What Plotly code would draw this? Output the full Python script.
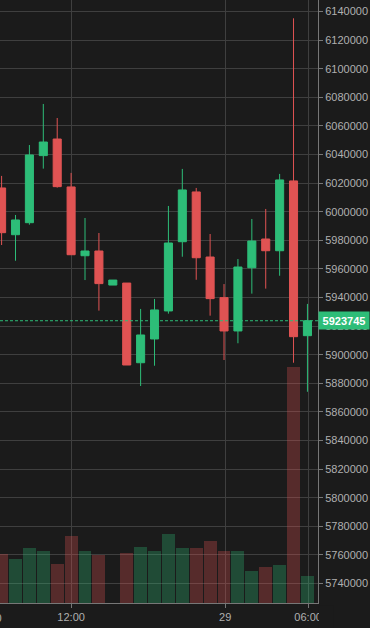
import plotly.graph_objects as go

# ---- data ----
candle_index = list(range(23))
opens  = [6016600, 5983900, 5992300, 6039200, 6050800, 6017300, 5969200, 5972500, 5948700, 5950100,
          5894400, 5911000, 5930600, 5979000, 6013800, 5968300, 5939900, 5916600, 5960800, 5980900,
          5972700, 6021500, 5913300]
highs  = [6025000, 5997700, 6046600, 6075300, 6065500, 6027100, 5995600, 5985100, 5952200, 5950100,
          5932000, 5939000, 6004000, 6029900, 6016600, 5984400, 5949400, 5966900, 5994900, 6001900,
          6026400, 6135200, 5935500]
lows   = [5976700, 5965700, 5990900, 6030100, 6016800, 5969900, 5952200, 5930800, 5948700, 5892800,
          5878100, 5892300, 5928700, 5968500, 5952400, 5927300, 5896300, 5908000, 5942700, 5946200,
          5955200, 5894400, 5874100]
closes = [5985300, 5994200, 6039650, 6048700, 6017500, 5969900, 5972500, 5949700, 5952200, 5892800,
          5913800, 5931300, 5978100, 6015200, 5967800, 5939200, 5916600, 5961300, 5979500, 5972700,
          6022200, 5912600, 5923745]
volumes = [49, 44, 55, 52, 39, 67, 52, 48, 0, 50,
           56, 52, 69, 55, 55, 62, 52, 52, 32, 36,
           38, 235, 27]
tick_positions = [5, 16.08, 22.05]
tick_labels = ["12:00", "29", "06:00"]
last_price = 5923745

BG = "#1b1b1b"
GRID = "#3f3f3f"
GREEN = "#2dbd78"
RED = "#e05353"
TXT = "#b0b0b0"
FONT = "Liberation Sans, Arial, sans-serif"

vol_colors = ["rgba(45,189,120,0.3)" if c >= o else "rgba(224,83,83,0.3)" for o, c in zip(opens, closes)]

fig = go.Figure()
fig.add_trace(go.Candlestick(
    x=candle_index, open=opens, high=highs, low=lows, close=closes,
    increasing=dict(line=dict(color=GREEN, width=1), fillcolor=GREEN),
    decreasing=dict(line=dict(color=RED, width=1), fillcolor=RED),
    whiskerwidth=0, showlegend=False, hoverinfo="skip",
))
fig.add_trace(go.Bar(
    x=candle_index, y=volumes, yaxis="y2", marker=dict(color=vol_colors, line=dict(width=0)),
    width=0.93, showlegend=False, hoverinfo="skip",
))

fig.add_shape(type="line", xref="paper", x0=0, x1=1, yref="y", y0=last_price, y1=last_price,
              line=dict(color=GREEN, width=1, dash="3px,2px"), layer="above")
# cover clipped part of the last time label beyond the plot edge
fig.add_shape(type="rect", xref="paper", x0=1.003, x1=1.05, yref="paper", y0=-0.05, y1=-0.004,
              fillcolor=BG, line=dict(width=0), layer="above")

fig.add_annotation(xref="paper", x=1, xanchor="left", yref="y", y=last_price, yanchor="middle",
                   text="<b>%d</b>" % last_price, showarrow=False, bgcolor=GREEN,
                   font=dict(color="white", size=11, family=FONT), width=48, height=15, borderpad=1)
fig.add_annotation(xref="paper", x=-12.3 / 318, xanchor="center", yref="paper", y=-15 / 603,
                   yanchor="middle", text="06:00", showarrow=False,
                   font=dict(color=TXT, size=11, family=FONT))

fig.update_layout(
    width=370, height=628,
    margin=dict(l=0, r=52, t=0, b=25),
    paper_bgcolor=BG, plot_bgcolor=BG,
    boxgap=0.42, boxgroupgap=0,
    hovermode=False,
    font=dict(family=FONT, size=11, color=TXT),
    xaxis=dict(range=[-0.115, 22.76], rangeslider=dict(visible=False),
               tickmode="array", tickvals=tick_positions, ticktext=tick_labels,
               showgrid=True, gridcolor=GRID, gridwidth=1, zeroline=False,
               showline=True, linecolor="#777777", linewidth=1,
               ticks="outside", ticklen=4, tickcolor="#777777",
               tickfont=dict(size=11, color=TXT), automargin=False, showspikes=False),
    yaxis=dict(side="right", range=[5726400, 6148000], dtick=20000, tickformat="d",
               showgrid=True, gridcolor=GRID, gridwidth=1, zeroline=False,
               showline=True, linecolor="#777777", linewidth=1,
               ticks="outside", ticklen=4, tickcolor="#777777",
               tickfont=dict(size=11, color=TXT), automargin=False, showspikes=False),
    yaxis2=dict(overlaying="y", range=[0, 600], visible=False, showgrid=False),
    bargap=0,
)

fig.write_html("out.html", config={"displayModeBar": False},
               post_script="document.body.style.margin='0';document.body.style.padding='0';document.body.style.background='%s';" % BG)
